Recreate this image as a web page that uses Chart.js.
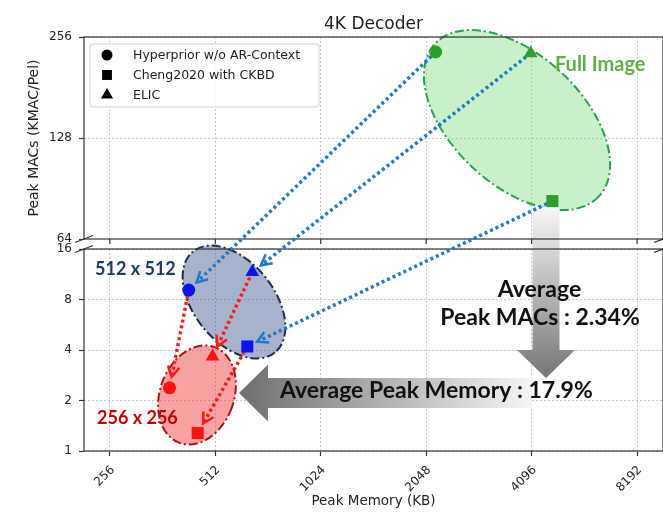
<!DOCTYPE html>
<html lang="en">
<head>
<meta charset="UTF-8">
<title>4K Decoder</title>
<script src="https://cdn.jsdelivr.net/npm/chart.js@4.4.0/dist/chart.umd.min.js"></script>
<style>
    html, body { margin: 0; padding: 0; background: #fff; }
    #wrap { width: 663px; height: 513px; position: relative; overflow: hidden; }
</style>
</head>
<body>
<div id="wrap"><canvas id="decoderChart"></canvas></div>
<script>
// ---- values ----
const modelNames = ['Hyperprior w/o AR-Context', 'Cheng2020 with CKBD', 'ELIC'];
const modelShapes = ['circle', 'rect', 'triangle'];
const resolutions = ['Full Image', '512 x 512', '256 x 256'];
const resolutionColors = ['#2ca02c', '#0c16e8', '#ff1212'];

// one value per resolution (full, 512, 256): peak memory in KB, peak MACs in KMAC/pel
const hyperpriorMem = [2180, 430, 379];
const hyperpriorMacs = [231, 9.1, 2.38];
const chengMem = [4695, 632, 456];
const chengMacs = [83, 4.2, 1.28];
const elicMem = [4070, 653, 503];
const elicMacs = [229, 11.65, 3.66];

const xTicks = [256, 512, 1024, 2048, 4096, 8192];
const yTicksLower = [1, 2, 4, 8, 16];
const yTicksUpper = [64, 128, 256];

const memSeries = [hyperpriorMem, chengMem, elicMem];
const macsSeries = [hyperpriorMacs, chengMacs, elicMacs];

// y axis with a break: two log2 panels (1..16 below, 64..256 above)
const PANEL_GAP = 10;
class BrokenLog2Scale extends Chart.Scale {
    determineDataLimits() {
        this.min = yTicksLower[0];
        this.max = yTicksUpper[yTicksUpper.length - 1];
    }
    buildTicks() {
        return [...yTicksLower, ...yTicksUpper].map(v => ({ value: v }));
    }
    getLabelForValue(v) { return String(v); }
    panelHeight() { return (this.bottom - this.top - PANEL_GAP) / 2; }
    getPixelForValue(v) {
        const h = this.panelHeight();
        const lv = Math.log2(v);
        const uLo = Math.log2(yTicksUpper[0]), uHi = Math.log2(yTicksUpper[yTicksUpper.length - 1]);
        const lLo = Math.log2(yTicksLower[0]), lHi = Math.log2(yTicksLower[yTicksLower.length - 1]);
        if (lv >= uLo) return this.top + h * (uHi - lv) / (uHi - uLo);
        return this.bottom - h * (lv - lLo) / (lHi - lLo);
    }
    getValueForPixel(p) {
        const h = this.panelHeight();
        const uLo = Math.log2(yTicksUpper[0]), uHi = Math.log2(yTicksUpper[yTicksUpper.length - 1]);
        const lLo = Math.log2(yTicksLower[0]), lHi = Math.log2(yTicksLower[yTicksLower.length - 1]);
        if (p <= this.top + h) return Math.pow(2, uHi - (p - this.top) / h * (uHi - uLo));
        return Math.pow(2, lLo + (this.bottom - p) / h * (lHi - lLo));
    }
}
BrokenLog2Scale.id = 'brokenLog2';
BrokenLog2Scale.defaults = {};
Chart.register(BrokenLog2Scale);

function strokeLine(ctx, x1, y1, x2, y2) {
    ctx.beginPath(); ctx.moveTo(x1, y1); ctx.lineTo(x2, y2); ctx.stroke();
}

function dashDotEllipse(ctx, cx, cy, rx, ry, rotDeg, fill, edge) {
    ctx.beginPath();
    ctx.ellipse(cx, cy, rx, ry, rotDeg * Math.PI / 180, 0, 2 * Math.PI);
    ctx.fillStyle = fill;
    ctx.fill();
    ctx.setLineDash([9, 3, 2, 3]);
    ctx.lineWidth = 2;
    ctx.strokeStyle = edge;
    ctx.stroke();
    ctx.setLineDash([]);
}

// big shaded block arrow from tail to tip
function blockArrow(ctx, tail, tip, shaftHalf, headHalf, headLen, tailColor, tipColor) {
    const dx = tip.x - tail.x, dy = tip.y - tail.y, len = Math.hypot(dx, dy);
    const ux = dx / len, uy = dy / len, nx = -uy, ny = ux;
    const bx = tip.x - ux * headLen, by = tip.y - uy * headLen;
    const g = ctx.createLinearGradient(tail.x, tail.y, tip.x, tip.y);
    g.addColorStop(0, tailColor);
    g.addColorStop(1, tipColor);
    ctx.beginPath();
    ctx.moveTo(tail.x + nx * shaftHalf, tail.y + ny * shaftHalf);
    ctx.lineTo(bx + nx * shaftHalf, by + ny * shaftHalf);
    ctx.lineTo(bx + nx * headHalf, by + ny * headHalf);
    ctx.lineTo(tip.x, tip.y);
    ctx.lineTo(bx - nx * headHalf, by - ny * headHalf);
    ctx.lineTo(bx - nx * shaftHalf, by - ny * shaftHalf);
    ctx.lineTo(tail.x - nx * shaftHalf, tail.y - ny * shaftHalf);
    ctx.closePath();
    ctx.fillStyle = g;
    ctx.fill();
}

// dotted line with an open "->" head, shortened at both ends like matplotlib's shrink
function dottedArrow(ctx, a, b, color) {
    const dx = b.x - a.x, dy = b.y - a.y, len = Math.hypot(dx, dy);
    const ux = dx / len, uy = dy / len;
    const sx = a.x + ux * 6, sy = a.y + uy * 6;
    const ex = b.x - ux * 11, ey = b.y - uy * 11;
    ctx.strokeStyle = color;
    ctx.lineWidth = 3.5;
    ctx.setLineDash([3, 3]);
    strokeLine(ctx, sx, sy, ex, ey);
    ctx.setLineDash([]);
    ctx.lineWidth = 2.5;
    const ang = Math.atan2(uy, ux), head = 12, spread = 0.5;
    ctx.beginPath();
    ctx.moveTo(ex - head * Math.cos(ang - spread), ey - head * Math.sin(ang - spread));
    ctx.lineTo(ex, ey);
    ctx.lineTo(ex - head * Math.cos(ang + spread), ey - head * Math.sin(ang + spread));
    ctx.stroke();
}

const decorPlugin = {
    id: 'decor',
    beforeDatasetsDraw(chart) {
        const { ctx, chartArea: ca, scales: { x, y } } = chart;
        const L = ca.left, T = ca.top, W = ca.right - ca.left;
        const h = y.panelHeight();
        const upperBottom = ca.top + h, lowerTop = ca.bottom - h;
        ctx.save();

        // clear grid from the gap between the panels
        ctx.fillStyle = '#fff';
        ctx.fillRect(L, upperBottom, W, lowerTop - upperBottom);

        // group ellipses
        dashDotEllipse(ctx, L + 433, T + 83, 112, 65, 43, 'rgba(120,220,120,0.4)', '#27a04e');
        dashDotEllipse(ctx, L + 150, T + 265, 65, 40, 51, 'rgba(60,85,140,0.45)', '#1b2a50');
        dashDotEllipse(ctx, L + 113, T + 358, 37, 51, 20, 'rgba(240,50,50,0.45)', '#a81515');

        // shaded reduction arrows
        blockArrow(ctx, { x: L + 462, y: T + 170 }, { x: L + 462, y: T + 341 }, 13.5, 29, 28, '#f7f7f9', '#767676');
        blockArrow(ctx, { x: L + 448, y: T + 356 }, { x: L + 155, y: T + 356 }, 15, 28.5, 29, '#f6f6f6', '#6e6e6e');

        // spines of both panels
        ctx.strokeStyle = '#333';
        ctx.lineWidth = 1.2;
        ctx.strokeRect(L, T, W, h);
        ctx.strokeRect(L, lowerTop, W, h);
        // x ticks under the upper panel
        xTicks.forEach(v => {
            const px = x.getPixelForValue(v);
            strokeLine(ctx, px, upperBottom, px, upperBottom + 5);
        });
        // break marks
        ctx.lineWidth = 1.3;
        [ca.left, ca.right].forEach(px => {
            [upperBottom, lowerTop].forEach(py => strokeLine(ctx, px - 9, py + 3.5, px + 9, py - 3.5));
        });

        // full image -> 512 (blue), 512 -> 256 (red)
        modelNames.forEach((name, m) => {
            const pts = chart.getDatasetMeta(m).data;
            dottedArrow(ctx, pts[0], pts[1], '#1f78c8');
        });
        modelNames.forEach((name, m) => {
            const pts = chart.getDatasetMeta(m).data;
            dottedArrow(ctx, pts[1], pts[2], '#ff1a1a');
        });
        ctx.restore();
    },
    afterDraw(chart) {
        const { ctx, chartArea: ca, scales: { y } } = chart;
        const L = ca.left, T = ca.top;
        const upperBottom = ca.top + y.panelHeight();
        ctx.save();

        // title and left label (centred on the upper panel)
        ctx.fillStyle = '#222';
        ctx.textAlign = 'center';
        ctx.textBaseline = 'alphabetic';
        ctx.font = '17px "DejaVu Sans"';
        ctx.fillText('4K Decoder', (ca.left + ca.right) / 2, 29);
        ctx.save();
        ctx.translate(34, (ca.top + upperBottom) / 2);
        ctx.rotate(-Math.PI / 2);
        ctx.textBaseline = 'middle';
        ctx.font = '14px "DejaVu Sans"';
        ctx.fillText('Peak MACs (KMAC/Pel)', 0, 0);
        ctx.restore();

        // group labels
        ctx.textAlign = 'left';
        ctx.font = 'bold 20px Lato';
        ctx.fillStyle = '#62ad45';
        ctx.fillText(resolutions[0], L + 471, T + 34);
        ctx.font = 'bold 18px Lato';
        ctx.fillStyle = '#1f3864';
        ctx.fillText(resolutions[1], L + 11, T + 238);
        ctx.fillStyle = '#c00000';
        ctx.fillText(resolutions[2], L + 13, T + 387);

        // reduction notes
        ctx.fillStyle = '#111';
        ctx.font = 'bold 23px Lato';
        ctx.textAlign = 'center';
        ctx.fillText('Average', L + 455.5, T + 260);
        ctx.fillText('Peak MACs : 2.34%', L + 456, T + 288);
        ctx.textAlign = 'left';
        ctx.fillText('Average Peak Memory : 17.9%', L + 196, T + 361);

        // legend (marker shape = model)
        const bx = L + 6, by = T + 7, bw = 229, bh = 63;
        ctx.beginPath();
        ctx.roundRect(bx, by, bw, bh, 3);
        ctx.fillStyle = 'rgba(255,255,255,0.85)';
        ctx.fill();
        ctx.strokeStyle = '#cfcfcf';
        ctx.lineWidth = 1;
        ctx.stroke();
        const markerR = [5.5, 7, 7];
        ctx.font = '12.5px "DejaVu Sans"';
        ctx.textBaseline = 'middle';
        modelNames.forEach((name, i) => {
            const ry = by + 11 + i * 20;
            ctx.fillStyle = '#000';
            Chart.helpers.drawPoint(ctx, { pointStyle: modelShapes[i], radius: markerR[i], rotation: 0, borderWidth: 0 }, bx + 17, ry);
            ctx.fillStyle = '#222';
            ctx.fillText(name, bx + 43, ry + 1);
        });
        ctx.restore();
    }
};

const markerRadius = [6.5, 8.5, 8];
const datasets = modelNames.map((name, m) => ({
    label: name,
    data: memSeries[m].map((mem, r) => ({ x: mem, y: macsSeries[m][r] })),
    pointStyle: modelShapes[m],
    pointRadius: markerRadius[m],
    pointBackgroundColor: resolutionColors,
    pointBorderWidth: 0,
    clip: false
}));

const tickFont = { family: 'DejaVu Sans', size: 12 };

const ctx = document.getElementById('decoderChart').getContext('2d');
new Chart(ctx, {
    type: 'scatter',
    data: { datasets },
    options: {
        responsive: true,
        maintainAspectRatio: false,
        animation: false,
        events: [],
        layout: { autoPadding: false, padding: { top: 37, right: -2, bottom: 0, left: 0 } },
        plugins: {
            legend: { display: false },
            title: { display: false },
            tooltip: { enabled: false }
        },
        scales: {
            x: {
                type: 'logarithmic',
                min: 216,
                max: 9715,
                afterBuildTicks: s => { s.ticks = xTicks.map(v => ({ value: v })); },
                afterFit: s => { s.height = 62; s.paddingLeft = 0; s.paddingRight = 0; },
                ticks: {
                    callback: v => String(v),
                    autoSkip: false,
                    minRotation: 45,
                    maxRotation: 45,
                    padding: 7,
                    labelOffset: 3,
                    font: tickFont,
                    color: '#222'
                },
                grid: { color: '#c9c9c9', lineWidth: 1, tickLength: 5, tickColor: '#333', tickWidth: 1.2 },
                border: { display: false, dash: [2, 2] },
                title: {
                    display: true,
                    text: 'Peak Memory (KB)',
                    font: { family: 'DejaVu Sans', size: 13.5 },
                    color: '#222',
                    padding: { top: 0, bottom: 3 }
                }
            },
            y: {
                type: 'brokenLog2',
                afterFit: s => { s.width = 84; s.paddingTop = 0; s.paddingBottom = 0; },
                ticks: {
                    callback: v => String(v),
                    autoSkip: false,
                    padding: 7,
                    font: tickFont,
                    color: '#222'
                },
                grid: { color: '#c9c9c9', lineWidth: 1, tickLength: 5, tickColor: '#333', tickWidth: 1.2 },
                border: { display: false, dash: [2, 2] }
            }
        }
    },
    plugins: [decorPlugin]
});
</script>
</body>
</html>
